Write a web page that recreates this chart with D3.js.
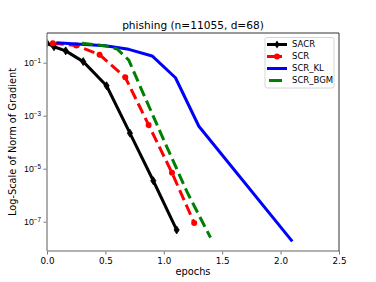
<!DOCTYPE html>
<html><head><meta charset="utf-8">
<script src="https://cdn.jsdelivr.net/npm/d3@7"></script>
<style>html,body{margin:0;padding:0;background:#fff;}svg{display:block;font-family:"DejaVu Sans",sans-serif;}</style>
</head><body>
<svg id="c" width="376" height="282"></svg>
<script>
const title = "phishing (n=11055, d=68)";
const xLabel = "epochs";
const yLabel = "Log-Scale of Norm of Gradient";
const xTicks = [0, 0.5, 1.0, 1.5, 2.0, 2.5];
const yTickExps = [-1, -3, -5, -7];

const sacrX = [0, 0.06, 0.16, 0.31, 0.51, 0.71, 0.91, 1.11];
const sacrY = [0.54, 0.40, 0.28, 0.11, 0.0135, 2.2e-4, 3.5e-6, 4.9e-8];
const scrX = [0.05, 0.25, 0.45, 0.67, 0.87, 1.07, 1.26];
const scrY = [0.54, 0.45, 0.2, 0.028, 4.5e-4, 7e-6, 9e-8];
const klX = [0.08, 0.5, 0.7, 0.9, 1.1, 1.3, 2.1];
const klY = [0.57, 0.44, 0.32, 0.18, 0.027, 4e-4, 1.8e-8];
const bgmX = [0.3, 0.5, 0.6, 0.7, 0.8, 1.0, 1.2, 1.4];
const bgmY = [0.54, 0.43, 0.33, 0.126, 0.012, 1.2e-4, 1.3e-6, 2.5e-8];

const series = [
  {name: "SACR", x: sacrX, y: sacrY, color: "#000000", dash: null, marker: "diamond"},
  {name: "SCR", x: scrX, y: scrY, color: "#ff0000", dash: "11,5", marker: "circle"},
  {name: "SCR_KL", x: klX, y: klY, color: "#0000ff", dash: null, marker: null},
  {name: "SCR_BGM", x: bgmX, y: bgmY, color: "#008000", dash: "11,5", marker: null}
];

const L = 47, R = 339, T = 33, B = 251;
const svg = d3.select("#c");
const x = d3.scaleLinear().domain([0, 2.5]).range([L, R]);
const y = d3.scaleLog().domain([Math.pow(10, 0.121), Math.pow(10, -8.106)]).range([T, B]);

const clipId = "clip";
svg.append("defs").append("clipPath").attr("id", clipId)
  .append("rect").attr("x", L).attr("y", T).attr("width", R - L).attr("height", B - T);

// axes
const xAxis = svg.append("g").attr("transform", `translate(0,${B})`)
  .call(d3.axisBottom(x).tickValues(xTicks).tickFormat(d3.format(".1f")).tickSizeOuter(0).tickSize(3.5).tickPadding(3));
xAxis.select(".domain").remove();
xAxis.selectAll("line").attr("stroke", "#555").attr("stroke-width", 0.8);
xAxis.selectAll("text").attr("font-size", "8.8px").attr("fill", "#000").attr("font-family", "DejaVu Sans");

const yAxis = svg.append("g").attr("transform", `translate(${L},0)`)
  .call(d3.axisLeft(y).tickValues(yTickExps.map(e => Math.pow(10, e))).tickFormat("").tickSizeOuter(0).tickSize(3.5));
yAxis.select(".domain").remove();
yAxis.selectAll("line").attr("stroke", "#555").attr("stroke-width", 0.8);
yAxis.selectAll(".tick").each(function(d) {
  const e = Math.round(Math.log10(d));
  const t = d3.select(this).append("text").attr("x", -6).attr("dy", "0.32em")
    .attr("text-anchor", "end").attr("fill", "#000").attr("font-size", "8.8px");
  t.append("tspan").text("10");
  t.append("tspan").attr("dy", "-0.45em").attr("font-size", "6.3px").text("\u2212" + Math.abs(e));
});

// lines
const plot = svg.append("g").attr("clip-path", `url(#${clipId})`);
series.forEach(s => {
  const pts = s.x.map((v, i) => [v, s.y[i]]);
  const line = d3.line().x(d => x(d[0])).y(d => y(d[1]));
  const p = plot.append("path").attr("d", line(pts)).attr("fill", "none")
    .attr("stroke", s.color).attr("stroke-width", 3).attr("stroke-linejoin", "round");
  if (s.dash) p.attr("stroke-dasharray", s.dash);
  if (s.marker === "diamond") {
    plot.selectAll(null).data(pts).enter().append("path")
      .attr("d", "M0,-4L2.6,0L0,4L-2.6,0Z")
      .attr("transform", d => `translate(${x(d[0])},${y(d[1])})`)
      .attr("fill", s.color).attr("stroke", s.color).attr("stroke-width", 0.8);
  } else if (s.marker === "circle") {
    plot.selectAll(null).data(pts).enter().append("circle")
      .attr("cx", d => x(d[0])).attr("cy", d => y(d[1])).attr("r", 3).attr("fill", s.color);
  }
});

// spines
svg.append("line").attr("x1", L).attr("x2", L).attr("y1", T).attr("y2", B).attr("stroke", "#999").attr("stroke-width", 1.6);
svg.append("line").attr("x1", L).attr("x2", R).attr("y1", B).attr("y2", B).attr("stroke", "#999").attr("stroke-width", 1.6);
svg.append("line").attr("x1", R).attr("x2", R).attr("y1", T).attr("y2", B).attr("stroke", "#333").attr("stroke-width", 1);
svg.append("line").attr("x1", L).attr("x2", R).attr("y1", T).attr("y2", T).attr("stroke", "#333").attr("stroke-width", 1);

// legend
const lg = svg.append("g");
lg.append("rect").attr("x", 265).attr("y", 37.5).attr("width", 69).attr("height", 50.5).attr("rx", 2)
  .attr("fill", "#fff").attr("fill-opacity", 0.8).attr("stroke", "#ccc").attr("stroke-width", 0.8);
const ly = [44.5, 56.5, 68.5, 80.5];
series.forEach((s, i) => {
  const g = lg.append("g");
  if (s.dash) {
    g.append("line").attr("x1", s.marker ? 267 : 269).attr("x2", 282).attr("y1", ly[i]).attr("y2", ly[i])
      .attr("stroke", s.color).attr("stroke-width", 3);
  } else {
    g.append("line").attr("x1", 267).attr("x2", 287).attr("y1", ly[i]).attr("y2", ly[i])
      .attr("stroke", s.color).attr("stroke-width", 3);
  }
  if (s.marker === "diamond") {
    g.append("path").attr("d", "M0,-4L2.6,0L0,4L-2.6,0Z").attr("transform", `translate(277,${ly[i]})`).attr("fill", s.color);
  } else if (s.marker === "circle") {
    g.append("circle").attr("cx", 277).attr("cy", ly[i]).attr("r", 3).attr("fill", s.color);
  }
  g.append("text").attr("x", 292).attr("y", ly[i]).attr("dy", "0.35em").attr("font-size", "8.5px").attr("fill", "#000").text(s.name);
});

// texts
svg.append("text").attr("x", (L + R) / 2).attr("y", 25.3).attr("dy", "0.35em").attr("text-anchor", "middle")
  .attr("font-size", "10.6px").attr("fill", "#000").text(title);
svg.append("text").attr("x", (L + R) / 2).attr("y", 271.7).attr("dy", "0.35em").attr("text-anchor", "middle")
  .attr("font-size", "9.8px").attr("fill", "#000").text(xLabel);
svg.append("text").attr("transform", `translate(13,142) rotate(-90)`).attr("dy", "0.35em").attr("text-anchor", "middle")
  .attr("font-size", "9.8px").attr("fill", "#000").text(yLabel);
</script>
</body></html>
